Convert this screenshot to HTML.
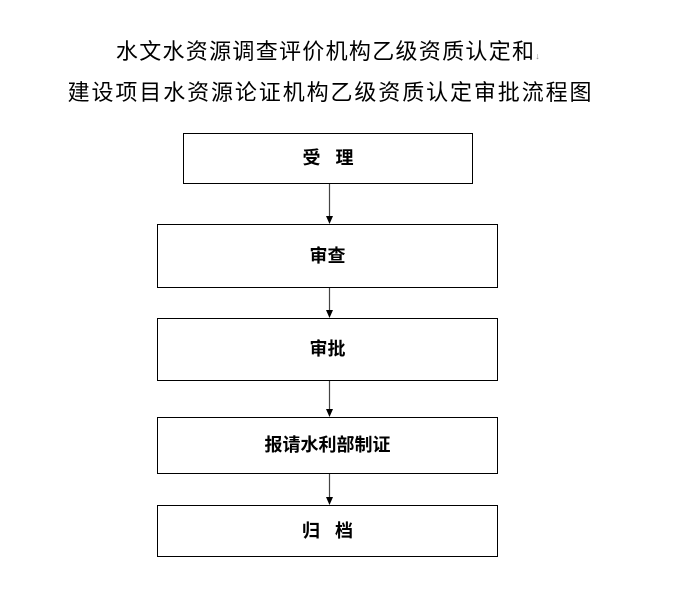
<!DOCTYPE html>
<html><head><meta charset="utf-8"><style>
body{margin:0;background:#fff;width:673px;height:602px;overflow:hidden;position:relative;font-family:"Liberation Sans","Noto Sans CJK SC",sans-serif;}
.t{position:absolute;left:0;width:673px;text-align:center;font-size:22px;color:#000;white-space:nowrap}
.b{position:absolute;border:1px solid #000;box-sizing:border-box;display:flex;align-items:center;justify-content:center;font-size:18px;font-weight:bold;color:#000;padding-bottom:3px}
</style></head><body>
<div class="t" style="top:34px;left:-8px;letter-spacing:1.3px">水文水资源调查评价机构乙级资质认定和<span style="font-size:9px;color:#888">↓</span></div>
<div class="t" style="top:75px;left:-6px;letter-spacing:1.9px">建设项目水资源论证机构乙级资质认定审批流程图</div>
<div class="b" style="left:183px;top:133px;width:290px;height:51px">受&nbsp;&nbsp;&nbsp;理</div>
<div class="b" style="left:157px;top:224px;width:341px;height:64px">审查</div>
<div class="b" style="left:157px;top:318px;width:341px;height:63px">审批</div>
<div class="b" style="left:157px;top:417px;width:341px;height:57px">报请水利部制证</div>
<div class="b" style="left:157px;top:505px;width:341px;height:52px">归&nbsp;&nbsp;&nbsp;档</div>
<svg width="673" height="602" style="position:absolute;left:0;top:0">
<g stroke="#444" stroke-width="1.2" fill="#000">
<line x1="329.5" y1="184" x2="329.5" y2="217"/><polygon points="326,216 333,216 329.5,224" stroke="none"/>
<line x1="329.5" y1="288" x2="329.5" y2="311"/><polygon points="326,310 333,310 329.5,318" stroke="none"/>
<line x1="329.5" y1="381" x2="329.5" y2="410"/><polygon points="326,409 333,409 329.5,417" stroke="none"/>
<line x1="329.5" y1="474" x2="329.5" y2="498"/><polygon points="326,497 333,497 329.5,505" stroke="none"/>
</g></svg>
</body></html>
